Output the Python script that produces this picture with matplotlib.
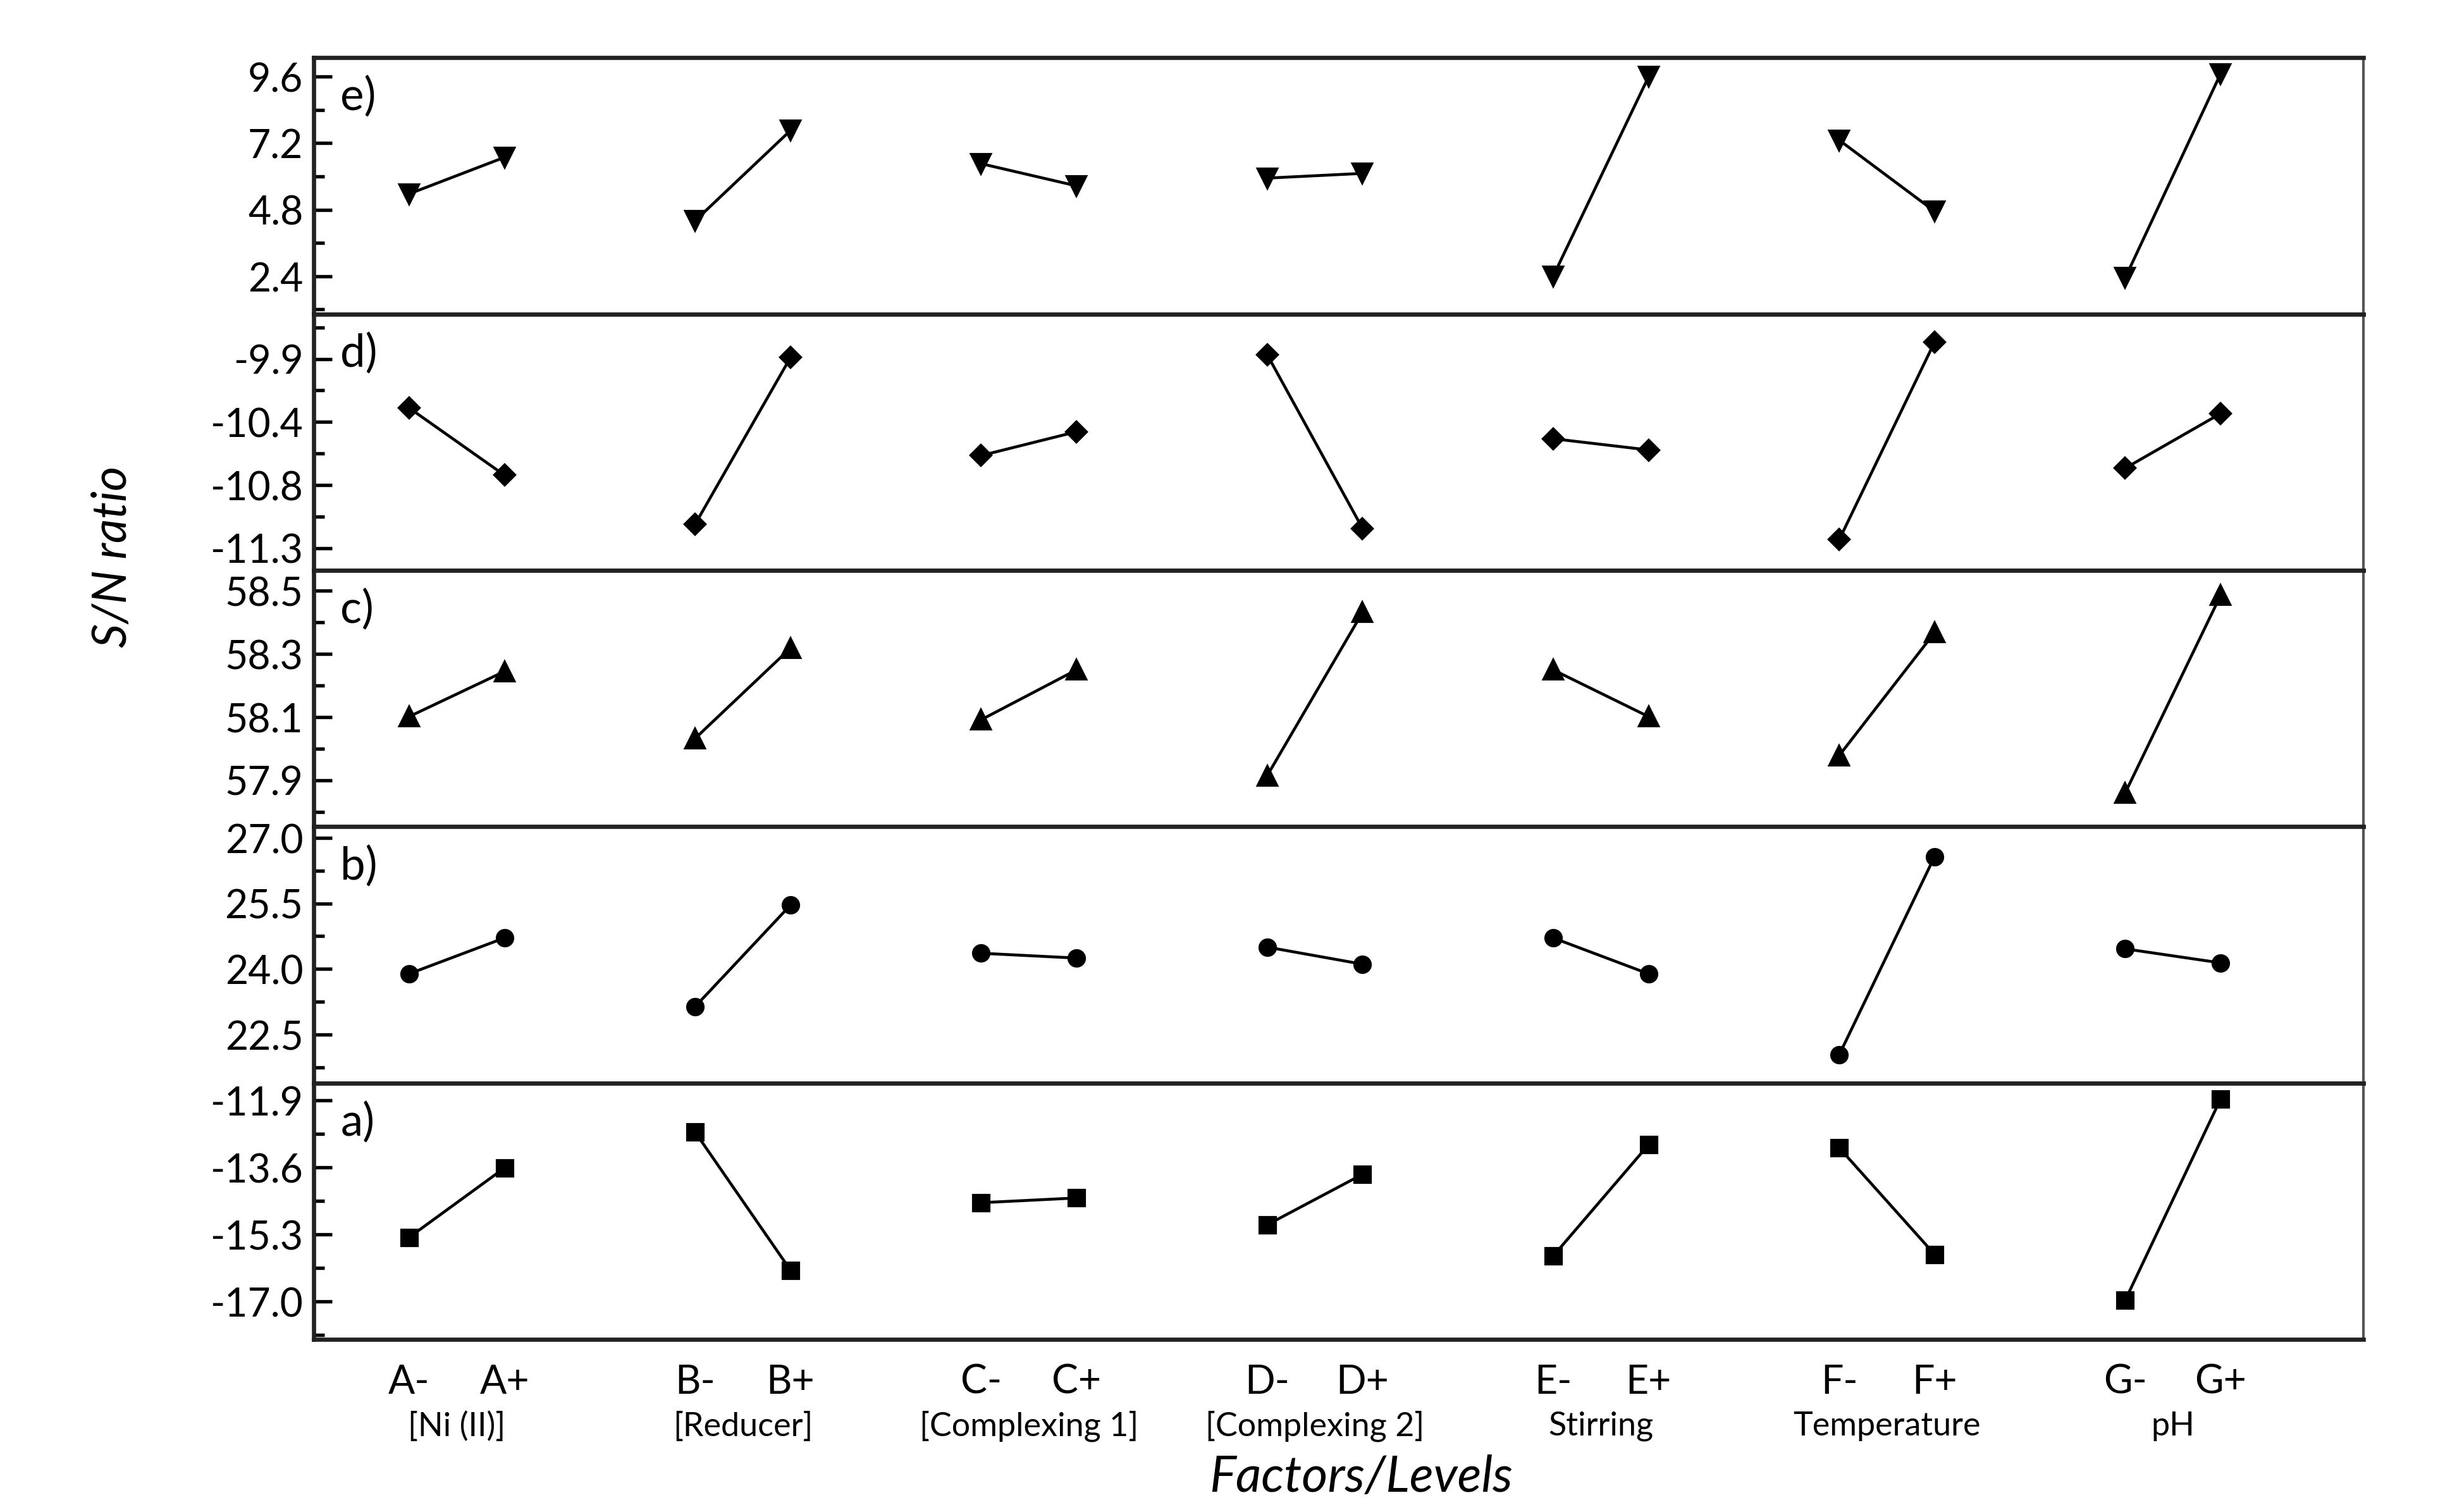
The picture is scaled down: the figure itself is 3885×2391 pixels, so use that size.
import matplotlib
matplotlib.use("Agg")
import matplotlib.pyplot as plt
from matplotlib.ticker import AutoMinorLocator
from matplotlib.transforms import blended_transform_factory

plt.rcParams["font.family"] = ["Lato", "DejaVu Sans"]

# factors and their levels along the x axis
factors = ["[Ni (II)]", "[Reducer]", "[Complexing 1]", "[Complexing 2]",
           "Stirring", "Temperature", "pH"]
letters = ["A", "B", "C", "D", "E", "F", "G"]

# S/N ratio per panel, pairs (level -, level +) for each factor
sn_e = [5.37, 6.69, 4.40, 7.66, 6.46, 5.66, 5.94, 6.11, 2.40, 9.60, 7.31, 4.74, 2.34, 9.71]
sn_d = [-10.25, -10.73, -11.08, -9.89, -10.59, -10.42, -9.87, -11.11,
        -10.47, -10.55, -11.19, -9.78, -10.68, -10.29]
sn_c = [58.101, 58.244, 58.032, 58.318, 58.091, 58.249, 57.914, 58.431,
        58.249, 58.101, 57.978, 58.367, 57.860, 58.485]
sn_b = [23.89, 24.71, 23.14, 25.46, 24.36, 24.25, 24.50, 24.11,
        24.71, 23.89, 22.04, 26.57, 24.46, 24.14]
sn_a = [-15.37, -13.61, -12.70, -16.20, -14.49, -14.37, -15.05, -13.77,
        -15.84, -13.02, -13.10, -15.80, -16.96, -11.86]

# y ticks as printed on each panel
ticks_e = [9.6, 7.2, 4.8, 2.4]
labels_e = ["9.6", "7.2", "4.8", "2.4"]
ticks_d = [-9.9, -10.35, -10.8, -11.25]
labels_d = ["-9.9", "-10.4", "-10.8", "-11.3"]
ticks_c = [58.5, 58.3, 58.1, 57.9]
labels_c = ["58.5", "58.3", "58.1", "57.9"]
ticks_b = [27.0, 25.5, 24.0, 22.5]
labels_b = ["27.0", "25.5", "24.0", "22.5"]
ticks_a = [-11.9, -13.6, -15.3, -17.0]
labels_a = ["-11.9", "-13.6", "-15.3", "-17.0"]

panels = [
    ("e)", sn_e, "v", 7, ticks_e, labels_e, (1.03, 10.29)),
    ("d)", sn_d, "D", 5.5, ticks_d, labels_d, (-11.41, -9.58)),
    ("c)", sn_c, "^", 7, ticks_c, labels_c, (57.752, 58.564)),
    ("b)", sn_b, "o", 6, ticks_b, labels_b, (21.39, 27.25)),
    ("a)", sn_a, "s", 6, ticks_a, labels_a, (-17.96, -11.46)),
]

fig, axes = plt.subplots(5, 1, sharex=True, figsize=(12.95, 7.973), dpi=300)
fig.subplots_adjust(left=0.1277, right=0.962, top=0.9615, bottom=0.114, hspace=0)

for ax, (tag, vals, mk, ms, ticks, labels, lim) in zip(axes, panels):
    for i in range(len(factors)):
        x = [3 * i, 3 * i + 1]
        y = vals[2 * i:2 * i + 2]
        ax.plot(x, y, color="black", lw=1.1, marker=mk, ms=ms,
                markerfacecolor="black", markeredgecolor="black")
    ax.set_ylim(*lim)
    ax.set_yticks(ticks)
    ax.set_yticklabels(labels, fontsize=15)
    ax.yaxis.set_minor_locator(AutoMinorLocator(2))
    ax.tick_params(axis="y", which="major", direction="in", length=7, width=1.3, pad=4)
    ax.tick_params(axis="y", which="minor", direction="in", length=4, width=1.3)
    ax.tick_params(axis="x", length=0)
    ax.text(0.013, 0.93, tag, transform=ax.transAxes, fontsize=17, va="top", ha="left")
    for side in ["top", "bottom", "left"]:
        ax.spines[side].set_linewidth(1.6)
        ax.spines[side].set_color("#222222")
    ax.spines["right"].set_linewidth(1.0)
    ax.spines["right"].set_color("#555555")

ax = axes[-1]
ax.set_xlim(-1, 20.5)
xpos, xlab = [], []
for i, L in enumerate(letters):
    xpos += [3 * i, 3 * i + 1]
    xlab += [L + "-", L + "+"]
ax.set_xticks(xpos)
ax.set_xticklabels(xlab, fontsize=15)
ax.tick_params(axis="x", pad=9)

trans = blended_transform_factory(ax.transData, fig.transFigure)
for i, name in enumerate(factors):
    ax.text(3 * i + 0.5, 0.057, name, transform=trans, ha="center", va="center",
            fontsize=12.5)

fig.text(0.554, 0.023, "Factors/Levels", ha="center", va="center",
         fontsize=19, style="italic")
fig.text(0.046, 0.632, "S/N ratio", ha="center", va="center", rotation=90,
         fontsize=18, style="italic")

fig.savefig("out.png", dpi=300)
